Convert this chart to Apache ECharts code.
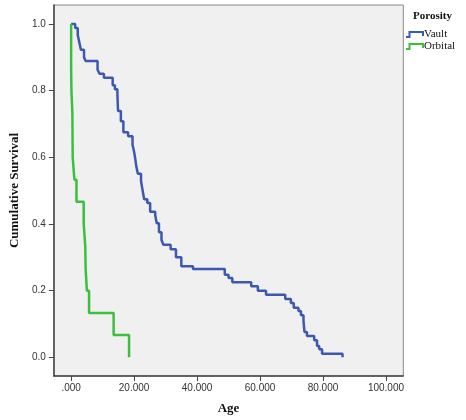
<!DOCTYPE html>
<html>
<head>
<meta charset="utf-8">
<script src="https://cdn.jsdelivr.net/npm/echarts@6/dist/echarts.min.js"></script>
<style>html,body{margin:0;padding:0;background:#fff}#c{width:466px;height:420px}</style>
</head>
<body>
<div id="c"></div>
<script>
// Kaplan-Meier survival data (time of event, survival after event)
const vaultTime = [0, 1.3, 2.1, 2.5, 3.1, 4.1, 4.6, 8.4, 9.0, 10.4, 13.2, 13.9, 14.7, 14.9, 15.8, 16.6, 18.1, 19.5, 20.0, 20.4, 20.7, 21.2, 22.2, 22.7, 23.2, 24.2, 25.1, 26.7, 27.2, 27.9, 28.7, 29.3, 31.6, 33.3, 35.0, 38.7, 48.8, 50.0, 51.2, 57.2, 59.3, 61.9, 68.0, 69.8, 70.7, 72.2, 73.0, 73.8, 74.1, 74.9, 77.2, 78.1, 78.8, 79.7, 86.2];
const vaultSurv = [1.0, 0.988, 0.968, 0.950, 0.923, 0.900, 0.889, 0.863, 0.851, 0.839, 0.816, 0.804, 0.789, 0.739, 0.708, 0.675, 0.663, 0.638, 0.617, 0.594, 0.573, 0.551, 0.529, 0.501, 0.474, 0.463, 0.437, 0.426, 0.402, 0.375, 0.352, 0.338, 0.324, 0.300, 0.273, 0.265, 0.248, 0.238, 0.225, 0.213, 0.200, 0.188, 0.175, 0.163, 0.149, 0.139, 0.126, 0.111, 0.076, 0.064, 0.051, 0.034, 0.024, 0.011, 0.0];
const orbitalTime = [0, 0, 0.1, 0.4, 0.5, 1.05, 1.7, 4.0, 4.5, 4.6, 5.0, 5.7, 13.5, 18.4];
const orbitalSurv = [1.0, 0.867, 0.8, 0.733, 0.6, 0.533, 0.467, 0.4, 0.333, 0.267, 0.2, 0.133, 0.067, 0.0];
const xTicks = [0, 20, 40, 60, 80, 100];
const yTicks = [0, 0.2, 0.4, 0.6, 0.8, 1.0];
const seriesNames = ['Vault', 'Orbital'];
const legendTitle = 'Porosity';
const xTitle = 'Age';
const yTitle = 'Cumulative Survival';

const BLUE = '#3D58B0', GREEN = '#3CBF3C';
const zip = (a, b) => a.map((v, i) => [v, b[i]]);

const chart = echarts.init(document.getElementById('c'), null, {renderer: 'canvas'});
const serif = '"Liberation Serif", "Times New Roman", serif';
const sans = '"Liberation Sans", Arial, sans-serif';

function stepIcon(x, y, color) {
  return {
    type: 'polyline',
    shape: {points: [[x, y + 5], [x + 3.5, y + 5], [x + 3.5, y], [x + 17, y], [x + 17, y + 4]]},
    style: {stroke: color, lineWidth: 2, fill: null}
  };
}

chart.setOption({
  animation: false,
  backgroundColor: '#ffffff',
  grid: {left: 52.7, top: 5, right: 62.7, bottom: 42.7, show: true, backgroundColor: '#F0F0F0', borderColor: '#8a8a8a', borderWidth: 1},
  xAxis: {
    type: 'value', min: -5.5, max: 105.5,
    name: xTitle, nameLocation: 'middle', nameGap: 26,
    nameTextStyle: {fontFamily: serif, fontWeight: 'bold', fontSize: 13, color: '#111'},
    axisLine: {show: true, onZero: false, lineStyle: {color: '#444', width: 1.5}},
    axisTick: {show: true, length: 5, customValues: xTicks, lineStyle: {color: '#444'}},
    axisLabel: {customValues: xTicks, margin: 7, fontFamily: sans, fontSize: 10, color: '#333',
      formatter: v => v === 0 ? '.000' : v.toFixed(3)},
    splitLine: {show: false}
  },
  yAxis: {
    type: 'value', min: -0.056, max: 1.057,
    name: yTitle, nameLocation: 'middle', nameGap: 30, nameRotate: 90,
    nameTextStyle: {fontFamily: serif, fontWeight: 'bold', fontSize: 13, color: '#111'},
    axisLine: {show: true, onZero: false, lineStyle: {color: '#444', width: 1.5}},
    axisTick: {show: true, length: 5, customValues: yTicks, lineStyle: {color: '#444'}},
    axisLabel: {customValues: yTicks, margin: 8, fontFamily: sans, fontSize: 10, color: '#333',
      formatter: v => v.toFixed(1)},
    splitLine: {show: false}
  },
  series: [
    {name: seriesNames[0], type: 'line', step: 'end', showSymbol: false, data: zip(vaultTime, vaultSurv),
      lineStyle: {color: BLUE, width: 2.5}, itemStyle: {color: BLUE}},
    {name: seriesNames[1], type: 'line', step: 'end', showSymbol: false, data: zip(orbitalTime, orbitalSurv),
      lineStyle: {color: GREEN, width: 2.5}, itemStyle: {color: GREEN}}
  ],
  graphic: [
    {type: 'text', left: 413, top: 11, style: {text: legendTitle, font: 'bold 11px ' + serif, fill: '#111'}},
    stepIcon(406, 32, BLUE),
    {type: 'text', left: 424, top: 29, style: {text: seriesNames[0], font: '11px ' + serif, fill: '#111'}},
    stepIcon(406, 44, GREEN),
    {type: 'text', left: 424, top: 41, style: {text: seriesNames[1], font: '11px ' + serif, fill: '#111'}}
  ]
});
</script>
</body>
</html>
